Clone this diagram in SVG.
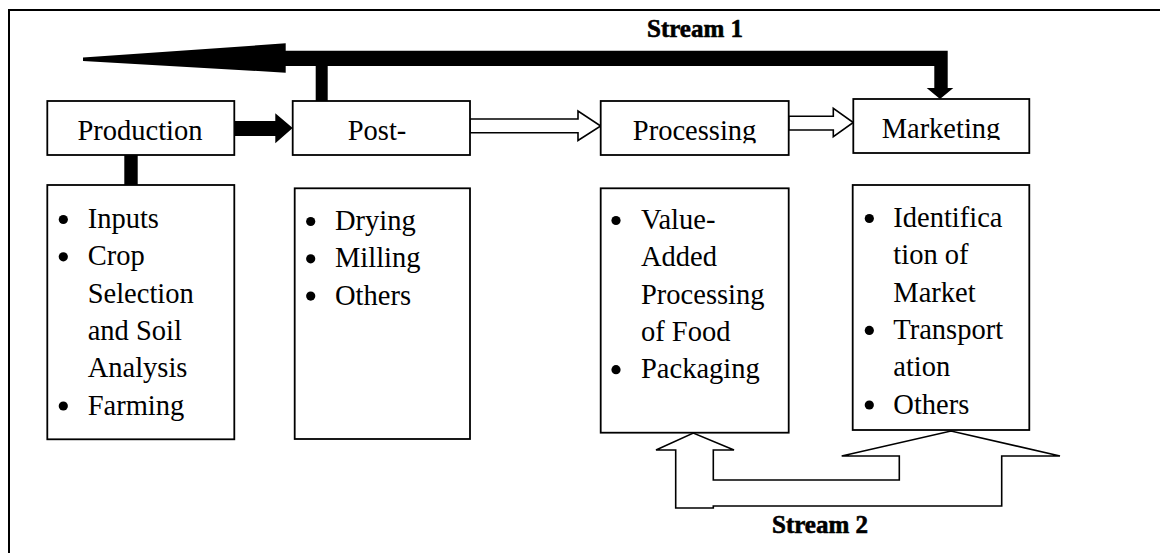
<svg xmlns="http://www.w3.org/2000/svg" width="1160" height="553" viewBox="0 0 1160 553">
<style>
.box{fill:#fff;stroke:#000;stroke-width:1.8}
.t{font-family:"Liberation Serif","Times New Roman",serif;font-size:28.5px;fill:#000}
.tm{text-anchor:middle}
.s{font-family:"Liberation Serif","Times New Roman",serif;font-size:25px;font-weight:bold;fill:#000;stroke:#000;stroke-width:0.6}
.hollow{fill:#fff;stroke:#000;stroke-width:1.6;stroke-linejoin:miter}
.solid{fill:#000;stroke:none}
</style>
<defs>
<clipPath id="clipProc"><rect x="600" y="101" width="189" height="42.3"/></clipPath>
<clipPath id="clipMkt"><rect x="853" y="99" width="177" height="41"/></clipPath>
</defs>
<rect x="0" y="0" width="1160" height="553" fill="#fff"/>
<g id="frame" fill="none" stroke="#000" stroke-width="2">
<line x1="8" y1="10" x2="1160" y2="10"/>
<line x1="9" y1="9" x2="9" y2="553"/>
</g>
<g id="connectors">
<!-- Stream 1 -->
<polygon class="solid" points="947.7,50.7 947.7,88 953.3,88 940,99 926.7,88 934.3,88 934.3,66 327.7,66 327.7,101 315.7,101 315.7,66 285.7,66 285.7,72.7 83,61 83,57.5 285.7,43.3 285.7,50.7"/>
<!-- Production stub -->
<rect class="solid" x="124.3" y="155" width="13.4" height="30"/>
<!-- Production -> Post -->
<polygon class="solid" points="234.3,121 275.3,121 275.3,113.3 292.7,128 275.3,143.3 275.3,136 234.3,136"/>
<!-- Post -> Processing -->
<polygon class="hollow" points="470,119 578,119 578,111 600.7,126 578,140.5 578,132.7 470,132.7"/>
<!-- Processing -> Marketing -->
<polygon class="hollow" points="788.7,116.3 833.3,116.3 833.3,108.3 853.3,122.5 833.3,136.7 833.3,130 788.7,130"/>
<!-- Stream 2 -->
<polygon class="hollow" stroke-width="2" points="713.3,450 713.3,480 899.3,480 899.3,456 841.7,456 951,431 1060,456 1001.7,456 1001.7,506 713.3,506 713.3,508 675.7,508 675.7,450 656,450 693.3,433 734,450"/>
</g>
<g id="stream1-label"><text class="s" x="647" y="37">Stream 1</text></g>
<g id="stream2-label"><text class="s" x="772" y="533">Stream 2</text></g>
<g id="production">
<rect class="box" x="47.3" y="101" width="187" height="54"/>
<text class="t tm" x="140" y="140">Production</text>
</g>
<g id="post">
<rect class="box" x="292.7" y="101" width="177.3" height="54"/>
<text class="t tm" x="377" y="140">Post-</text>
</g>
<g id="processing">
<rect class="box" x="600.7" y="101" width="188" height="54"/>
<text class="t tm" x="694.6" y="140" clip-path="url(#clipProc)">Processing</text>
</g>
<g id="marketing">
<rect class="box" x="853.3" y="99" width="176" height="54"/>
<text class="t tm" x="941" y="137.7" clip-path="url(#clipMkt)">Marketing</text>
</g>
<g id="production-list">
<rect class="box" x="47.3" y="185" width="187" height="254.3"/>
<circle cx="63.3" cy="219.5" r="4.6"/>
<circle cx="63.3" cy="256.8" r="4.6"/>
<circle cx="63.3" cy="406" r="4.6"/>
<text class="t" x="87.7" y="228">Inputs</text>
<text class="t" x="87.7" y="265.3">Crop</text>
<text class="t" x="87.7" y="302.6">Selection</text>
<text class="t" x="87.7" y="339.9">and Soil</text>
<text class="t" x="87.7" y="377.2">Analysis</text>
<text class="t" x="87.7" y="414.5">Farming</text>
</g>
<g id="post-list">
<rect class="box" x="294.7" y="188.3" width="175.3" height="250.7"/>
<circle cx="310.7" cy="221.5" r="4.6"/>
<circle cx="310.7" cy="258.8" r="4.6"/>
<circle cx="310.7" cy="296.1" r="4.6"/>
<text class="t" x="335" y="230">Drying</text>
<text class="t" x="335" y="267.3">Milling</text>
<text class="t" x="335" y="304.6">Others</text>
</g>
<g id="processing-list">
<rect class="box" x="600.7" y="188.3" width="188" height="244.4"/>
<circle cx="616" cy="220.5" r="4.6"/>
<circle cx="616" cy="369.7" r="4.6"/>
<text class="t" x="641" y="229">Value-</text>
<text class="t" x="641" y="266.3">Added</text>
<text class="t" x="641" y="303.6">Processing</text>
<text class="t" x="641" y="340.9">of Food</text>
<text class="t" x="641" y="378.2">Packaging</text>
</g>
<g id="marketing-list">
<rect class="box" x="852.7" y="185" width="176.6" height="245"/>
<circle cx="869.3" cy="218.5" r="4.6"/>
<circle cx="869.3" cy="330.4" r="4.6"/>
<circle cx="869.3" cy="405" r="4.6"/>
<text class="t" x="893.3" y="227">Identifica</text>
<text class="t" x="893.3" y="264.3">tion of</text>
<text class="t" x="893.3" y="301.6">Market</text>
<text class="t" x="893.3" y="338.9">Transport</text>
<text class="t" x="893.3" y="376.2">ation</text>
<text class="t" x="893.3" y="413.5">Others</text>
</g>
</svg>
